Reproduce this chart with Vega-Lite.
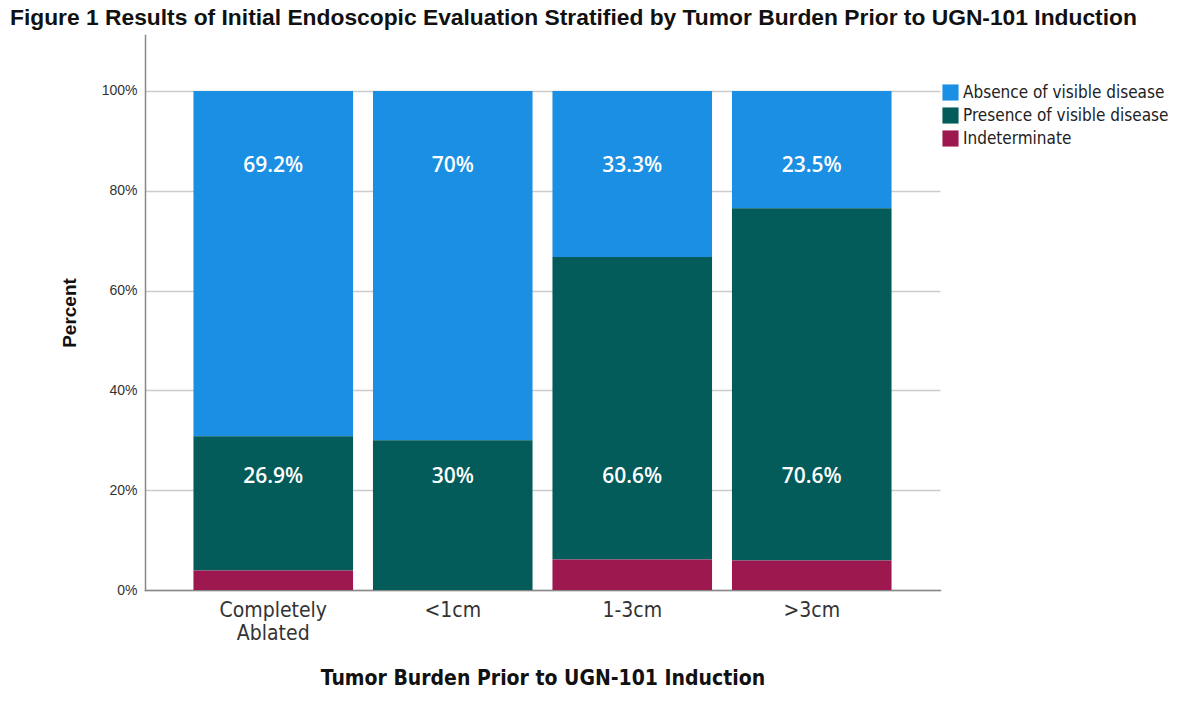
{
  "$schema": "https://vega.github.io/schema/vega-lite/v6.json",
  "width": 795,
  "height": 555,
  "autosize": {"type": "none"},
  "padding": {"left": 145, "top": 35, "right": 260, "bottom": 114},
  "background": "white",
  "title": {
    "text": "Figure 1  Results of Initial Endoscopic Evaluation Stratified by Tumor Burden Prior to UGN-101 Induction",
    "anchor": "start",
    "frame": "group",
    "dx": -135,
    "offset": 5,
    "font": "Liberation Sans",
    "fontSize": 22.8,
    "fontWeight": "bold",
    "color": "#111111"
  },
  "data": {
    "values": [
      {"burden": "Completely Ablated", "outcome": "Absence of visible disease", "share": 0.692},
      {"burden": "Completely Ablated", "outcome": "Presence of visible disease", "share": 0.269},
      {"burden": "Completely Ablated", "outcome": "Indeterminate", "share": 0.039},
      {"burden": "<1cm", "outcome": "Absence of visible disease", "share": 0.70},
      {"burden": "<1cm", "outcome": "Presence of visible disease", "share": 0.30},
      {"burden": "<1cm", "outcome": "Indeterminate", "share": 0.0},
      {"burden": "1-3cm", "outcome": "Absence of visible disease", "share": 0.333},
      {"burden": "1-3cm", "outcome": "Presence of visible disease", "share": 0.606},
      {"burden": "1-3cm", "outcome": "Indeterminate", "share": 0.061},
      {"burden": ">3cm", "outcome": "Absence of visible disease", "share": 0.235},
      {"burden": ">3cm", "outcome": "Presence of visible disease", "share": 0.706},
      {"burden": ">3cm", "outcome": "Indeterminate", "share": 0.059}
    ]
  },
  "transform": [
    {"calculate": "indexof(['Indeterminate','Presence of visible disease','Absence of visible disease'], datum.outcome)", "as": "stackOrder"}
  ],
  "encoding": {
    "x": {
      "field": "burden",
      "type": "nominal",
      "sort": ["Completely Ablated", "<1cm", "1-3cm", ">3cm"],
      "scale": {"paddingInner": 0.111, "paddingOuter": 0.27},
      "axis": {
        "title": "Tumor Burden Prior to UGN-101 Induction",
        "titleFont": "DejaVu Sans Condensed",
        "titleFontSize": 21,
        "titleFontWeight": "bold",
        "titleColor": "#111111",
        "titlePadding": 24,
        "labelAngle": 0,
        "labelFont": "DejaVu Sans Condensed",
        "labelFontSize": 21,
        "labelColor": "#333333",
        "labelPadding": 9,
        "labelLineHeight": 23,
        "labelExpr": "datum.label == 'Completely Ablated' ? ['Completely', 'Ablated'] : datum.label",
        "ticks": false,
        "domainColor": "#888888",
        "domainWidth": 1.5
      }
    }
  },
  "layer": [
    {
      "mark": {"type": "bar", "strokeWidth": 0},
      "encoding": {
        "y": {
          "field": "share",
          "type": "quantitative",
          "stack": "zero",
          "scale": {"domain": [0, 1.112], "nice": false},
          "axis": {
            "title": "Percent",
            "titleFont": "Liberation Sans",
            "titleFontSize": 19,
            "titleFontWeight": "bold",
            "titleColor": "#111111",
            "titlePadding": 22,
            "format": ".0%",
            "values": [0, 0.2, 0.4, 0.6, 0.8, 1.0],
            "labelFont": "Liberation Sans",
            "labelFontSize": 14,
            "labelColor": "#333333",
            "labelPadding": 8,
            "ticks": false,
            "grid": true,
            "gridColor": "#cccccc",
            "gridWidth": 1.5,
            "domainColor": "#888888",
            "domainWidth": 1.5
          }
        },
        "color": {
          "field": "outcome",
          "type": "nominal",
          "scale": {
            "domain": ["Absence of visible disease", "Presence of visible disease", "Indeterminate"],
            "range": ["#1a8fe3", "#035b5a", "#9e1850"]
          },
          "legend": {
            "title": null,
            "orient": "none",
            "legendX": 797,
            "legendY": 49,
            "symbolType": "square",
            "symbolSize": 260,
            "symbolStrokeWidth": 0,
            "labelFont": "DejaVu Sans Condensed",
            "labelFontSize": 17,
            "labelColor": "#222222",
            "rowPadding": 5,
            "labelOffset": 4,
            "labelLimit": 300
          }
        },
        "order": {"field": "stackOrder", "type": "quantitative", "sort": "ascending"}
      }
    },
    {
      "transform": [{"filter": "datum.outcome == 'Absence of visible disease'"}],
      "mark": {"type": "text", "color": "white", "font": "Open Sans", "fontSize": 21, "fontWeight": 600, "baseline": "middle"},
      "encoding": {
        "y": {"datum": 0.85, "type": "quantitative"},
        "text": {"field": "share", "type": "quantitative", "format": ".1~%"}
      }
    },
    {
      "transform": [{"filter": "datum.outcome == 'Presence of visible disease'"}],
      "mark": {"type": "text", "color": "white", "font": "Open Sans", "fontSize": 21, "fontWeight": 600, "baseline": "middle"},
      "encoding": {
        "y": {"datum": 0.226, "type": "quantitative"},
        "text": {"field": "share", "type": "quantitative", "format": ".1~%"}
      }
    }
  ],
  "config": {
    "view": {"stroke": null},
    "axis": {"domainCap": "square"}
  }
}
